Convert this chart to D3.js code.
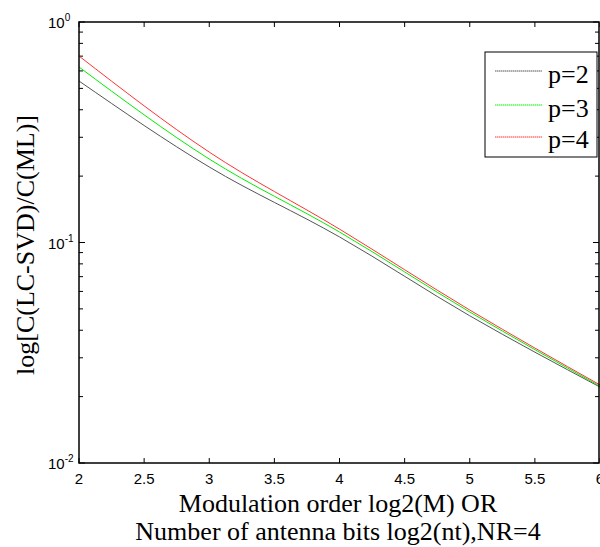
<!DOCTYPE html>
<html><head><meta charset="utf-8">
<script src="https://cdn.jsdelivr.net/npm/d3@7"></script>
<style>body{margin:0;background:#fff}svg{display:block}</style>
</head><body>
<svg id="c" width="600" height="547"></svg>
<script>
const xValues = [2, 3, 4, 5, 6];
const seriesP2 = [0.540, 0.220, 0.106, 0.0465, 0.0221];
const seriesP3 = [0.625, 0.239, 0.1116, 0.0484, 0.0223];
const seriesP4 = [0.701, 0.257, 0.115, 0.0494, 0.0226];
const seriesNames = ["p=2", "p=3", "p=4"];
const seriesColors = ["#555555", "#00ee00", "#ff3333"];
const xTicks = [2, 2.5, 3, 3.5, 4, 4.5, 5, 5.5, 6];
const yMajor = [1e-2, 1e-1, 1e0];
const yLabels = ["-2", "-1", "0"];

const svg = d3.select("#c");
const L = 79, R = 599, T = 22, B = 463;
const x = d3.scaleLinear().domain([2, 6]).range([L, 600]);
const y = d3.scaleLog().domain([1e-2, 1]).range([B, T]);

// ticks
const minor = [];
[1e-2, 1e-1].forEach(d => { for (let k = 2; k <= 9; k++) minor.push(d * k); });
const tg = svg.append("g").attr("stroke", "#000").attr("stroke-width", 1);
xTicks.forEach(v => {
  tg.append("line").attr("x1", x(v)).attr("x2", x(v)).attr("y1", B).attr("y2", B - 5);
  tg.append("line").attr("x1", x(v)).attr("x2", x(v)).attr("y1", T).attr("y2", T + 5);
});
yMajor.forEach(v => {
  tg.append("line").attr("x1", L).attr("x2", L + 6).attr("y1", y(v)).attr("y2", y(v));
  tg.append("line").attr("x1", R).attr("x2", R - 6).attr("y1", y(v)).attr("y2", y(v));
});
minor.forEach(v => {
  tg.append("line").attr("x1", L).attr("x2", L + 4).attr("y1", y(v)).attr("y2", y(v));
  tg.append("line").attr("x1", R).attr("x2", R - 4).attr("y1", y(v)).attr("y2", y(v));
});

// lines
const allSeries = [seriesP2, seriesP3, seriesP4];
const line = d3.line().x((d, i) => x(xValues[i])).y(d => y(d)).curve(d3.curveMonotoneX);
allSeries.forEach((s, i) => {
  svg.append("path").datum(s).attr("d", line).attr("fill", "none")
    .attr("stroke", seriesColors[i]).attr("stroke-width", 1);
});

// frame
svg.append("rect").attr("x", L).attr("y", T).attr("width", R - L).attr("height", B - T)
  .attr("fill", "none").attr("stroke", "#000").attr("stroke-width", 1.5);

// tick labels
const af = "Arial, 'Liberation Sans', sans-serif";
xTicks.forEach(v => {
  svg.append("text").attr("x", x(v)).attr("y", 484).attr("text-anchor", "middle")
    .attr("font-family", af).attr("font-size", 15).text(v);
});
yMajor.forEach((v, i) => {
  const t = svg.append("text").attr("x", 48).attr("y", y(v) + 6)
    .attr("font-family", af).attr("font-size", 15);
  t.append("tspan").text("10");
  t.append("tspan").attr("dy", -7).attr("font-size", 10).text(yLabels[i]);
});

// axis titles
const tf = "'Liberation Serif', 'Times New Roman', serif";
svg.append("text").attr("x", 338).attr("y", 512).attr("text-anchor", "middle")
  .attr("font-family", tf).attr("font-size", 26).text("Modulation order log2(M) OR");
svg.append("text").attr("x", 338).attr("y", 540).attr("text-anchor", "middle")
  .attr("font-family", tf).attr("font-size", 26).text("Number of antenna bits log2(nt),NR=4");
svg.append("text").attr("transform", "translate(34,245) rotate(-90)").attr("text-anchor", "middle")
  .attr("font-family", tf).attr("font-size", 26).text("log[C(LC-SVD)/C(ML)]");

// legend
svg.append("rect").attr("x", 485).attr("y", 52).attr("width", 112).attr("height", 105)
  .attr("fill", "#fff").attr("stroke", "#000").attr("stroke-width", 1);
const legY = [71, 105, 137];
const legBase = [83, 117, 148];
seriesNames.forEach((n, i) => {
  svg.append("line").attr("x1", 495).attr("x2", 542).attr("y1", legY[i]).attr("y2", legY[i])
    .attr("stroke", seriesColors[i]).attr("stroke-width", 1).attr("stroke-dasharray", "1.5,0.5");
  svg.append("text").attr("x", 548).attr("y", legBase[i]).attr("font-family", tf)
    .attr("font-size", 26).text(n);
});
</script>
</body></html>
